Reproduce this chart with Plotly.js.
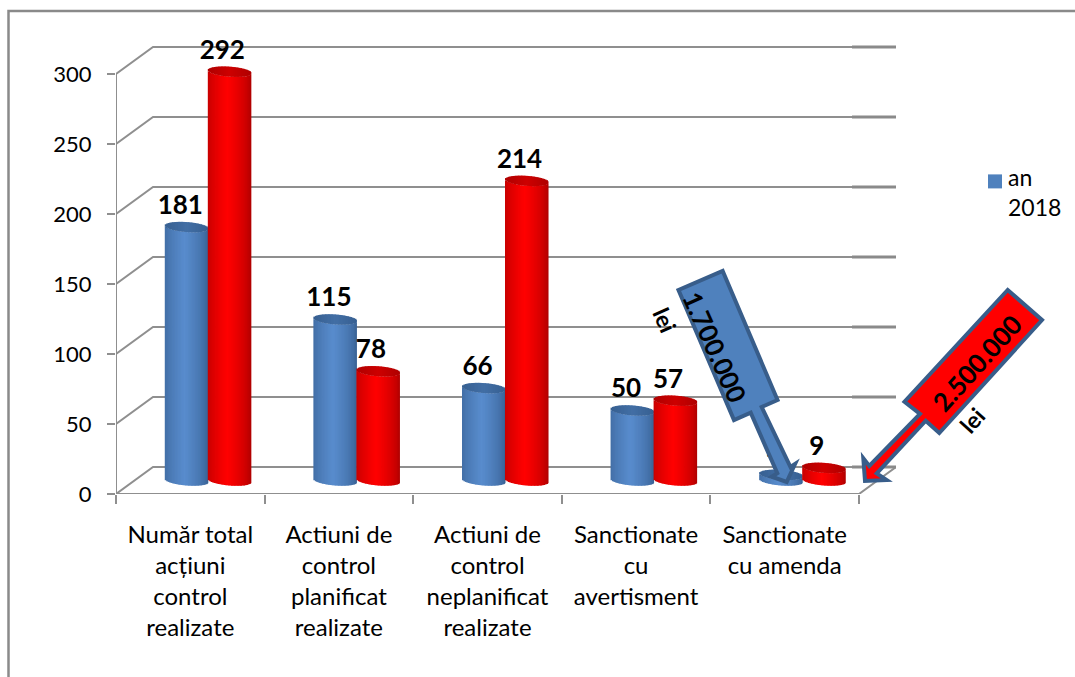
<!DOCTYPE html>
<html><head><meta charset="utf-8">
<script src="https://cdn.plot.ly/plotly-3.0.1.min.js"></script>
<style>html,body{margin:0;padding:0;background:#fff;overflow:hidden}#c{width:1075px;height:677px}</style>
</head><body><div id="c"></div>
<script>
const categories = ['Număr total<br>acțiuni<br>control<br>realizate','Actiuni de<br>control<br>planificat<br>realizate','Actiuni de<br>control<br>neplanificat<br>realizate','Sanctionate<br>cu<br>avertisment','Sanctionate<br>cu amenda'];
const blueValues = [181,115,66,50,4];
const redValues = [292,78,214,57,9];
const yTicks = [0,50,100,150,200,250,300];
const legendName = 'an<br>2018';
const blueAmount = '1.700.000', redAmount = '2.500.000', unit = 'lei';

const W=1075,H=677, L=116,R=896,T=30,B=494;
const pxX=148.5, pxY=1.4;
const depthX=37/pxX, depthY=27/pxY;
const xR=[-0.5,4.5+depthX];
const yR=[0,(B-T)/pxY];
const baseLift=13.5/pxY;
const FONT='Lato, "Noto Sans", sans-serif';
const GREY='#8f8f8f';

const gx=[],gy=[],ex=[],ey=[];
yTicks.forEach(v=>{
  gx.push(-0.5,-0.5+depthX,xR[1],null); gy.push(v,v+depthY,v+depthY,null);
  ex.push(4.5+depthX-44/pxX,xR[1],null); ey.push(v+depthY,v+depthY,null);
});
gx.push(-0.5,-0.5,null); gy.push(0,300,null);
gx.push(-0.5,4.5,xR[1]); gy.push(0,0,depthY);

const N=30, halfB=5/pxY, tilt=1.6/pxY;
function mix(a,b,t){return 'rgb('+a.map((c,i)=>Math.round(c+(b[i]-c)*t)).join(',')+')';}
function cylinders(vals,startPx,edge,mid,capEdge,capMid,name){
  const xs=[],ys=[],bs=[],ws=[],os=[],cs=[];
  const step=(43.5/pxX)/N, start=startPx/pxX;
  const wid=i=>i<N-1?step*1.6:step;   // each strip runs under the next, so no seams show
  vals.forEach((v,k)=>{ for(let i=0;i<N;i++){
    const t=(i+.5)/N*2-1, s=Math.sqrt(1-t*t), lean=-t*tilt;
    const low=-halfB*s+lean, high=v-halfB*s+lean;
    xs.push(k);bs.push(low);ys.push(high-low);ws.push(wid(i));os.push(start+i*step);
    cs.push(mix(edge,mid,Math.pow(1-Math.abs(t+0.1)/1.1,0.55)));
  }});
  vals.forEach((v,k)=>{ for(let i=0;i<N;i++){
    const t=(i+.5)/N*2-1, s=Math.sqrt(1-t*t), lean=-t*tilt;
    xs.push(k);bs.push(v-halfB*s+lean);ys.push(2*halfB*s);ws.push(wid(i));os.push(start+i*step);
    cs.push(mix(capEdge,capMid,1-Math.abs(t)));
  }});
  return {type:'bar',x:xs,y:ys,base:bs,width:ws,offset:os,yaxis:'y2',name:name,showlegend:false,hoverinfo:'skip',
    marker:{color:cs,line:{width:0}}};
}
const blueCyl=cylinders(blueValues,-25.5,[52,92,140],[88,140,205],[55,95,145],[66,110,165],'blue');
const redCyl=cylinders(redValues,17.5,[165,0,0],[255,0,0],[175,0,0],[205,0,0],'red');

const labelLift=4.7;
const labelX=[],labelY=[],labelT=[];
blueValues.forEach((v,k)=>{labelX.push(k+(-25.5+21.5-6)/pxX);labelY.push(v+labelLift);labelT.push(String(v));});
redValues.forEach((v,k)=>{labelX.push(k+(17.5+21.5-7)/pxX);labelY.push(v+labelLift);labelT.push(String(v));});

const traces=[
 {type:'scatter',mode:'lines',x:gx,y:gy,line:{color:GREY,width:2},showlegend:false,hoverinfo:'skip'},
 {type:'scatter',mode:'lines',x:ex,y:ey,line:{color:'#8a8a8a',width:3},showlegend:false,hoverinfo:'skip'},
 {type:'bar',x:[0],y:[null],name:legendName,marker:{color:'#4F81BD'},showlegend:true,hoverinfo:'skip',yaxis:'y2'},
 blueCyl,redCyl,
 {type:'scatter',mode:'text',x:labelX,y:labelY,text:labelT,yaxis:'y2',textposition:'top center',
  textfont:{family:FONT,size:26,color:'#000',weight:700},showlegend:false,hoverinfo:'skip',cliponaxis:false}
];

const fx=p=>(p-L)/(R-L), fy=p=>(B-p)/(B-T);
function poly(pts,fill){
  return {type:'path',xref:'paper',yref:'paper',layer:'above',fillcolor:fill,
    line:{color:'#385D8A',width:4},
    path:'M'+pts.map(p=>fx(p[0]).toFixed(5)+','+fy(p[1]).toFixed(5)).join('L')+'Z'};
}
const blueArrow=[[722.7,271],[777.5,400],[761.7,407],[790.5,467],[795,464],[786.7,482],[771.7,476.7],[777.3,473.3],[750.7,412.7],[734,420],[678.5,290]];
const redArrow=[[1007.7,290],[1042,320],[939.3,433],[925.7,420.7],[876.7,473.3],[886.7,480],[865,481],[863.3,458.3],[869.3,466],[920,414],[904.5,401.7]];
function note(t,x,y,a,sz){return {text:t,xref:'paper',yref:'paper',x:fx(x),y:fy(y),xanchor:'center',yanchor:'middle',
  showarrow:false,textangle:a,font:{family:FONT,size:sz,color:'#000',weight:700}};}

const layout={
 width:W,height:H,autosize:false,paper_bgcolor:'#fff',plot_bgcolor:'rgba(0,0,0,0)',
 margin:{l:L,r:W-R,t:T,b:H-B,pad:0,autoexpand:false},
 barmode:'overlay',font:{family:FONT,size:21,color:'#000'},
 xaxis:{type:'linear',range:xR,tickmode:'array',tickvals:[0,1,2,3,4],ticktext:categories,
   ticks:'',showgrid:false,zeroline:false,showline:false,tickangle:0,fixedrange:true,
   ticklabelstandoff:24,tickfont:{family:FONT,size:24,color:'#000'},
   minor:{tickmode:'array',tickvals:[-0.5,0.5,1.5,2.5,3.5,4.5],ticks:'outside',ticklen:9,tickwidth:2,tickcolor:GREY,showgrid:false}},
 yaxis:{range:yR,tickmode:'array',tickvals:yTicks,ticks:'outside',ticklen:8,tickwidth:2,tickcolor:GREY,
   showgrid:false,zeroline:false,showline:false,fixedrange:true,ticklabelstandoff:11,tickfont:{family:FONT,size:22,color:'#000'}},
 yaxis2:{range:[yR[0]-baseLift,yR[1]-baseLift],overlaying:'y',visible:false,fixedrange:true},
 legend:{x:(968-L)/(R-L),xanchor:'left',y:fy(156),yanchor:'top',bgcolor:'rgba(0,0,0,0)',borderwidth:0,
   font:{family:FONT,size:23,color:'#000'},itemclick:false,itemdoubleclick:false},
 shapes:[
  {type:'path',xref:'paper',yref:'paper',layer:'below',line:{color:'#8a8a8a',width:2.5},
   path:`M${fx(8.5)},${fy(H+2)}L${fx(8.5)},${fy(11)}L${fx(W+2)},${fy(11)}`},
  poly(blueArrow,'#4F81BD'),poly(redArrow,'#FF0000')],
 annotations:[
  note(blueAmount,715,347,66,26),note(unit,665,320,66,23),
  note(redAmount,977,363,-48,26),note(unit,972,420,-48,23)]
};
Plotly.newPlot('c',traces,layout,{displayModeBar:false,staticPlot:true}).then(()=>{
  const spacing=(sel,gap)=>document.querySelectorAll(sel).forEach(txt=>{
    txt.querySelectorAll('tspan.line').forEach((l,i)=>l.setAttribute('dy',(i*gap)+'px'));
  });
  spacing('.xtick text',31);
  spacing('text.legendtext',30);
  document.querySelectorAll('.legendpoints path').forEach(p=>p.setAttribute('d','M0,-18h14v14h-14z'));
});
</script></body></html>
